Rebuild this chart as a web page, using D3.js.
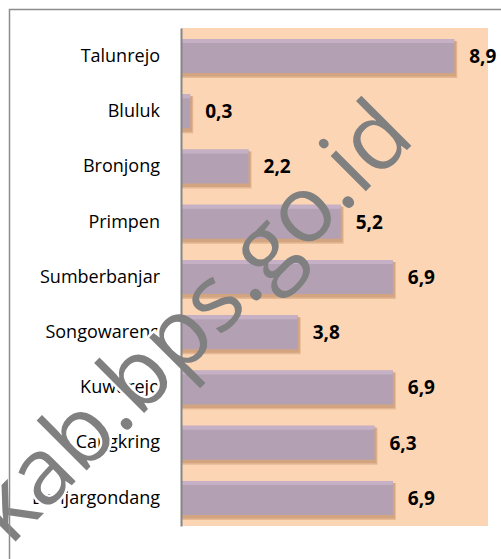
<!DOCTYPE html>
<html>

<head>
    <meta charset="UTF-8">
    <title>Horizontal bar chart - desa</title>
    <script src="https://d3js.org/d3.v7.min.js"></script>
    <style>
        body { margin: 0; background: #fff; overflow: hidden; }
        svg { display: block; overflow: hidden; }
        text { font-family: "Open Sans", sans-serif; }
    </style>
</head>

<body>
    <div class="canvas"></div>

    <script>
        // data
        const villages = ["Talunrejo", "Bluluk", "Bronjong", "Primpen", "Sumberbanjar",
            "Songowareng", "Kuwurejo", "Cangkring", "Banjargondang"];
        const values = [8.9, 0.3, 2.2, 5.2, 6.9, 3.8, 6.9, 6.3, 6.9];
        const xDomain = [0, 10];
        const watermark = "kab.bps.go.id";

        // dimensions
        const width = 501;
        const height = 559;
        const margin = { top: 28, right: 13, bottom: 33, left: 181 };
        const graphWidth = width - margin.left - margin.right;
        const graphHeight = height - margin.top - margin.bottom;

        const svg = d3.select(".canvas")
            .append("svg")
            .attr("width", width)
            .attr("height", height);

        // keep the watermark inside the picture
        svg.append("defs")
            .append("clipPath")
            .attr("id", "page")
            .append("rect")
            .attr("x", 0).attr("y", 0)
            .attr("width", width).attr("height", height);

        const xScale = d3.scaleLinear()
            .domain(xDomain)
            .range([0, graphWidth]);

        const yScale = d3.scaleBand()
            .domain(villages)
            .range([0, graphHeight])
            .paddingInner(0.385)
            .paddingOuter(0.2);

        const data = villages.map((name, i) => ({ name, value: values[i] }));

        // category labels first (the watermark halo covers parts of them)
        const labels = svg.append("g")
            .attr("transform", `translate(${margin.left}, ${margin.top})`);
        const yAxisGroup = labels.append("g")
            .call(d3.axisLeft(yScale).tickSize(0).tickPadding(21));
        yAxisGroup.select(".domain").remove();
        yAxisGroup.selectAll("text")
            .attr("font-family", "'Open Sans', sans-serif")
            .attr("font-size", 18)
            .attr("fill", "#000");

        // watermark placement (rotated 45deg, rising to the right)
        const wmSize = 93;
        const wmTransform = "translate(10, 547) rotate(-45)";

        // white halo, later hidden by the opaque plot area
        svg.append("g")
            .attr("clip-path", "url(#page)")
            .append("text")
            .attr("transform", wmTransform)
            .attr("font-size", wmSize)
            .attr("fill", "#fff")
            .attr("stroke", "#fff")
            .attr("stroke-width", 5)
            .attr("stroke-linejoin", "round")
            .text(watermark);

        const plot = svg.append("g")
            .attr("transform", `translate(${margin.left}, ${margin.top})`);

        // plot area
        plot.append("rect")
            .attr("width", graphWidth)
            .attr("height", graphHeight)
            .attr("fill", "#fcd5b4");

        // soft shadow under each bar
        plot.selectAll("rect.shadow")
            .data(data)
            .enter()
            .append("rect")
            .attr("class", "shadow")
            .attr("x", 1)
            .attr("y", d => yScale(d.name) + 2)
            .attr("width", d => xScale(d.value) + 2)
            .attr("height", yScale.bandwidth() + 3)
            .attr("fill", "#e5b894");

        plot.selectAll("rect.shadow2")
            .data(data)
            .enter()
            .append("rect")
            .attr("class", "shadow2")
            .attr("x", 1)
            .attr("y", d => yScale(d.name) + 2)
            .attr("width", d => xScale(d.value) + 1)
            .attr("height", yScale.bandwidth() + 1.5)
            .attr("fill", "#d3a480");

        plot.selectAll("rect.bar")
            .data(data)
            .enter()
            .append("rect")
            .attr("class", "bar")
            .attr("x", 0)
            .attr("y", d => yScale(d.name))
            .attr("width", d => xScale(d.value))
            .attr("height", yScale.bandwidth())
            .attr("fill", "#b3a1b3");

        // lighter top edge
        plot.selectAll("rect.hi")
            .data(data)
            .enter()
            .append("rect")
            .attr("class", "hi")
            .attr("x", 0)
            .attr("y", d => yScale(d.name))
            .attr("width", d => xScale(d.value))
            .attr("height", 4)
            .attr("fill", "#c6b0c5");

        // value labels
        plot.selectAll("text.val")
            .data(data)
            .enter()
            .append("text")
            .attr("class", "val")
            .attr("x", d => xScale(d.value) + 15)
            .attr("y", d => yScale(d.name) + yScale.bandwidth() / 2)
            .attr("dy", "0.36em")
            .attr("font-size", 19)
            .attr("font-weight", "bold")
            .attr("fill", "#000")
            .text(d => d3.format(".1f")(d.value).replace(".", ","));

        // axis line
        plot.append("g")
            .call(d3.axisLeft(yScale).tickSize(0).tickFormat(""))
            .select(".domain")
            .attr("stroke", "#868686")
            .attr("stroke-width", 2);

        // watermark
        svg.append("g")
            .attr("clip-path", "url(#page)")
            .append("text")
            .attr("transform", wmTransform)
            .attr("font-size", wmSize)
            .attr("fill", "#808080")
            .text(watermark);

        // outer frame (left and top edges, the rest runs off the picture)
        svg.append("path")
            .attr("d", `M9.5,${height} V9.5 H${width}`)
            .attr("fill", "none")
            .attr("stroke", "#8c8c8c")
            .attr("stroke-width", 1.5);
    </script>
</body>

</html>
